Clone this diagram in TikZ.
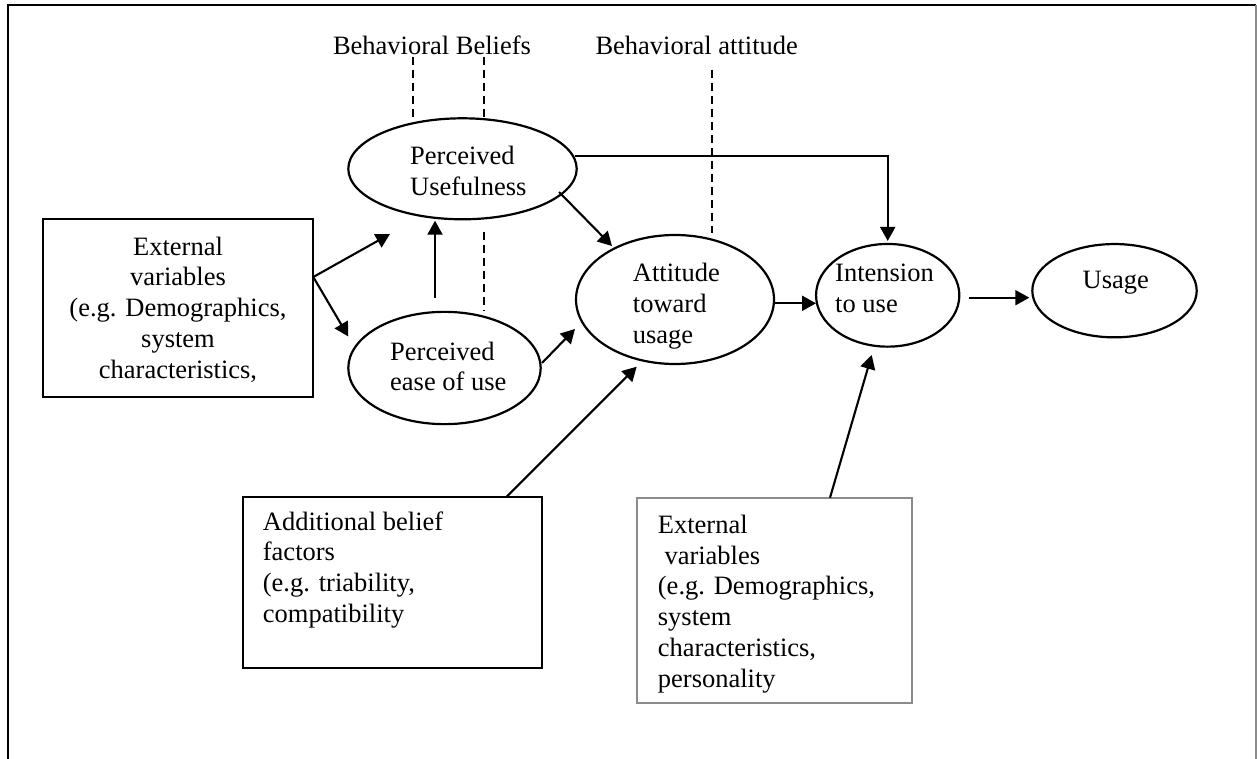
\documentclass[tikz,border=0pt]{standalone}
\usepackage{fontspec}
\setmainfont{Liberation Serif}
\usetikzlibrary{shapes.geometric,arrows.meta,calc}

\begin{document}
\begin{tikzpicture}[x=1pt,y=-1pt,
  every node/.style={font=\fontsize{26.5}{30.8}\selectfont},
  oval/.style={draw, ellipse, line width=2.2pt, inner sep=0pt, outer sep=0pt},
  boxed/.style={draw, rectangle, line width=2.2pt, inner sep=0pt, outer sep=0pt},
  txt/.style={inner sep=0pt, align=left, anchor=base west},
  caption/.style={inner sep=0pt, anchor=base},
  link/.style={line width=2.1pt, -{Triangle[length=14pt,width=15pt]}},
  guide/.style={line width=1.8pt, dash pattern=on 8pt off 5pt},
]
\useasboundingbox (0,0) rectangle (1257,759);

% open frame
\draw[line width=2.4pt] (8,759) -- (8,5) -- (1256,5);
\draw[line width=2.4pt, black!45] (1256,5) -- (1256,759);

% constructs
\node[oval, minimum width=228.4pt, minimum height=101pt]   (pu)    at (462.5,168.8) {};
\node[oval, minimum width=192.4pt, minimum height=112.3pt] (peou)  at (444.5,368)   {};
\node[oval, minimum width=198pt,   minimum height=129pt]   (atu)   at (675,299.5)   {};
\node[oval, minimum width=143.3pt, minimum height=102.7pt] (itu)   at (887.7,295.3) {};
\node[oval, minimum width=164.4pt, minimum height=93.3pt]  (usage) at (1114.5,290.7) {};

% node texts, anchored at the baseline of their last line
\node[txt] (pu-t)    at (410,195.8)   {Perceived\\Usefulness};
\node[txt] (peou-t)  at (390,390.8)   {Perceived\\ease of use};
\node[txt] (atu-t)   at (632.7,343.3) {Attitude\\toward\\usage};
\node[txt] (itu-t)   at (835,312.5)   {Intension\\to use};
\node[caption] (usage-t) at (1115.8,288.3) {Usage};

% factor boxes
\node[boxed, minimum width=270.6pt, minimum height=178pt]   (ext)  at (178,308.3)   {};
\node[boxed, minimum width=299pt,   minimum height=171.6pt] (add)  at (392.2,582.5) {};
\node[boxed, draw=black!45, minimum width=274.4pt, minimum height=205.6pt] (ext2) at (774.5,600.5) {};

\node[caption, align=center] (ext-t) at (178,378.2)
  {External\\variables\\(e.g. Demographics,\\system\\characteristics,};
\node[txt] (add-t) at (262.7,622.4)
  {Additional belief\\factors\\(e.g. triability,\\compatibility};
\node[txt] (ext2-t) at (657.7,687.3)
  {External\\\hspace*{6.6pt}variables\\(e.g. Demographics,\\system\\characteristics,\\personality};

% column headings
\node[caption] (bb) at (432,55)   {Behavioral Beliefs};
\node[caption] (ba) at (696.7,55) {Behavioral attitude};

% dashed guides
\draw[guide] ($(pu)+(-49.2,-112.1)$) -- ($(pu)+(-49.2,-50.5)$);
\draw[guide] ($(pu)+(21.8,-112.1)$)  -- ($(pu)+(21.8,-50.5)$);
\draw[guide] ($(pu)+(21.8,62.9)$)    -- ($(peou)+(39.8,-58)$);
\draw[guide] ($(atu)+(36.7,-229.5)$) -- ($(atu)+(36.7,-66.5)$);

% connectors
\draw[link] ($(pu)+(112.5,-13.1)$) -| ($(itu.north)+(0,-3)$);
\draw[link] ($(pu)+(96.5,23.2)$) -- ($(atu)+(-63,-53.5)$);
\draw[link] ($(ext.east)+(0,-31.3)$) -- ($(pu)+(-72.5,65.2)$);
\draw[link] ($(ext.east)+(0,-31.3)$) -- ($(peou)+(-96.2,-31.5)$);
\draw[link] ($(peou)+(-9.5,-70)$) -- ($(pu)+(-27.5,51.9)$);
\draw[link] ($(peou)+(97.5,-5)$) -- ($(atu)+(-100,29.5)$);
\draw[link] ($(atu)+(99,3.8)$) -- ($(itu)+(-71.7,8)$);
\draw[link] ($(itu)+(81.6,2.4)$) -- ($(usage)+(-85.2,7)$);
\draw[link] ($(add.north west)+(264,0)$) -- ($(atu)+(-38.3,67.2)$);
\draw[link] ($(ext2.north west)+(192.7,0)$) -- ($(itu)+(-16,59.7)$);
\end{tikzpicture}
\end{document}
